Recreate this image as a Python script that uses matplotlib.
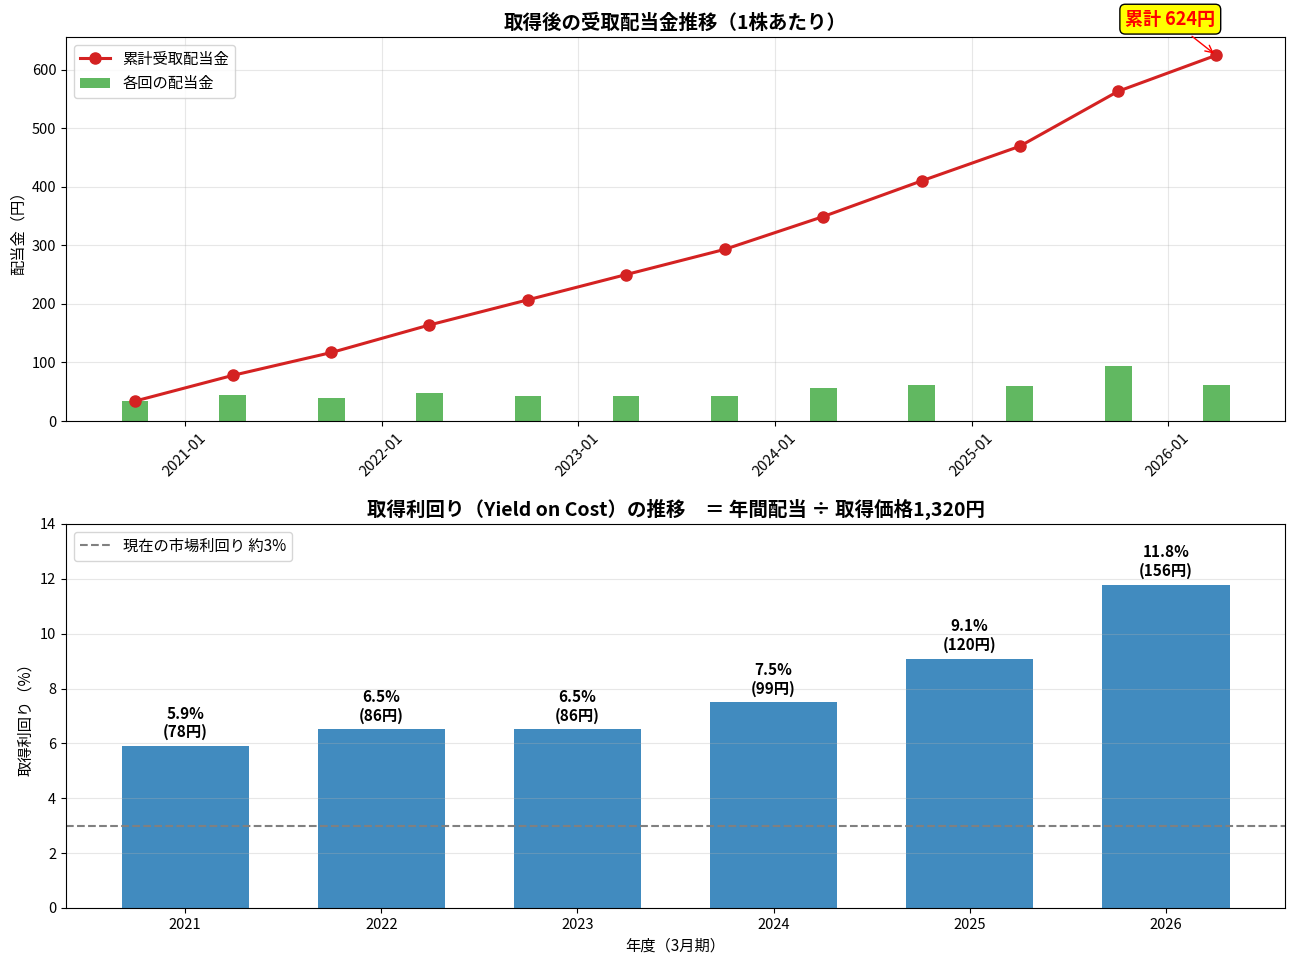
import matplotlib
matplotlib.use("Agg")
import matplotlib.pyplot as plt
import matplotlib.dates as mdates
import numpy as np
import pandas as pd

plt.rcParams['font.family'] = ['Noto Sans CJK JP', 'DejaVu Sans']

# ---- data ----
pay_dates = ["2020-09-30", "2021-03-31", "2021-09-30", "2022-03-31", "2022-09-30", "2023-03-31",
             "2023-09-30", "2024-03-31", "2024-09-30", "2025-03-31", "2025-09-30", "2026-03-31"]
dividends = [34, 44, 39, 47, 43, 43, 43, 56, 61, 59, 94, 61.5]
fiscal_years = ["2021", "2022", "2023", "2024", "2025", "2026"]
cost_price = 1320
market_yield = 3.0

dates = pd.to_datetime(pay_dates)
cumulative = np.cumsum(dividends)
annual = [dividends[2 * i] + dividends[2 * i + 1] for i in range(len(fiscal_years))]
yoc = [a / cost_price * 100 for a in annual]

fig, (ax1, ax2) = plt.subplots(2, 1, figsize=(12.96, 9.68), dpi=100)
fig.subplots_adjust(left=0.051, right=0.9915, top=0.9618, bottom=0.062, hspace=0.268)

# ---- top chart ----
ax1.bar(dates, dividends, width=50, color='tab:green', alpha=0.75, label='各回の配当金')
ax1.plot(dates, cumulative, color='#d42222', linewidth=2.2, marker='o', markersize=8,
         label='累計受取配当金')
ax1.set_title('取得後の受取配当金推移（1株あたり）', fontsize=14, fontweight='bold')
ax1.set_ylabel('配当金（円）', fontsize=11)
ax1.xaxis.set_major_locator(mdates.YearLocator())
ax1.xaxis.set_major_formatter(mdates.DateFormatter('%Y-%m'))
plt.setp(ax1.get_xticklabels(), rotation=45)
ax1.grid(True, alpha=0.3)
ax1.legend(loc='upper left', fontsize=11)
ax1.tick_params(labelsize=10.5)
ax1.annotate(f'累計 {cumulative[-1]:.0f}円', xy=(dates[-1], cumulative[-1]),
             xytext=(-33, 26), textcoords='offset points', ha='center', va='center',
             fontsize=13, fontweight='bold', color='red',
             bbox=dict(boxstyle='round,pad=0.3', facecolor='yellow', edgecolor='black'),
             arrowprops=dict(arrowstyle='->', color='red'))

# ---- bottom chart ----
x = np.arange(len(fiscal_years))
ax2.bar(x, yoc, width=0.65, color='tab:blue', alpha=0.85)
ax2.axhline(market_yield, color='gray', linestyle='--', linewidth=1.5,
            label=f'現在の市場利回り 約{market_yield:.0f}%')
for xi, y, a in zip(x, yoc, annual):
    ax2.text(xi, y + 0.2, f'{y:.1f}%\n({a:.0f}円)', ha='center', va='bottom',
             fontsize=11, fontweight='bold')
ax2.set_xticks(x)
ax2.set_xticklabels(fiscal_years)
ax2.set_ylim(0, 14)
ax2.set_title(f'取得利回り（Yield on Cost）の推移　＝ 年間配当 ÷ 取得価格{cost_price:,}円',
              fontsize=14, fontweight='bold')
ax2.set_ylabel('取得利回り（%）', fontsize=11)
ax2.set_xlabel('年度（3月期）', fontsize=11)
ax2.grid(True, axis='y', alpha=0.3)
ax2.legend(loc='upper left', fontsize=11)
ax2.tick_params(labelsize=10.5)

fig.savefig('out.png', dpi=100)
